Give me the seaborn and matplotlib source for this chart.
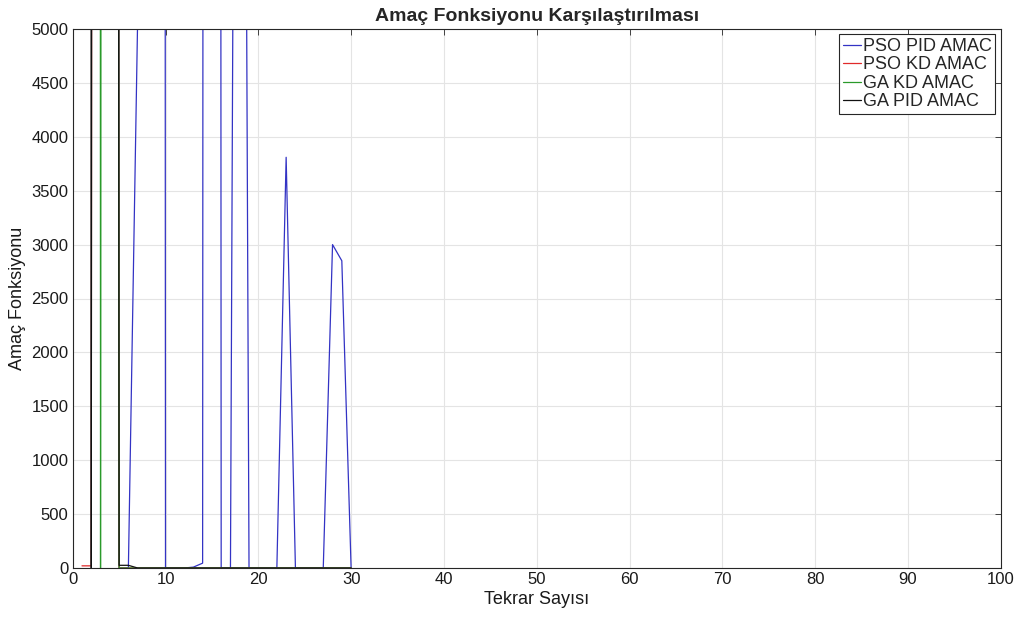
import numpy as np
import pandas as pd
import matplotlib
matplotlib.use("Agg")
import matplotlib.pyplot as plt
import seaborn as sns

# Tekrar (iteration) index
tekrar = list(range(1, 31))

# values far above 5000 are drawn off the top of the axes, as in the original
pso_pid = [250000, 240000, 230000, 220000, 0, 0, 5100, 180000, 170000, 0,
           0, 0, 8, 45, 160000, 0, 0, 20000, 0, 0,
           0, 0, 3810, 0, 0, 0, 0, 3000, 2850, 0]
pso_kd = [20, 20, 150000, 140000, 0, 0, 0, 0, 0, 0,
          0, 0, 0, 0, 0, 0, 0, 0, 0, 0,
          0, 0, 0, 0, 0, 0, 0, 0, 0, 0]
ga_kd = [300000, 290000, 0, 120000, 0, 0, 0, 0, 0, 0,
         0, 0, 0, 0, 0, 0, 0, 0, 0, 0,
         0, 0, 0, 0, 0, 0, 0, 0, 0, 0]
ga_pid = [350000, 0, 130000, 110000, 25, 25, 0, 0, 0, 0,
          0, 0, 0, 0, 0, 0, 0, 0, 0, 0,
          0, 0, 0, 0, 0, 0, 0, 0, 0, 0]

seriler = ["PSO PID AMAC", "PSO KD AMAC", "GA KD AMAC", "GA PID AMAC"]
renkler = ["#3333c4", "#e02a2a", "#2a9a2a", "#111111"]

df = pd.DataFrame({
    "Tekrar": tekrar * 4,
    "Amac": pso_pid + pso_kd + ga_kd + ga_pid,
    "Seri": sum([[s] * len(tekrar) for s in seriler], []),
})

sns.set_style("whitegrid")
plt.rcParams["font.family"] = ["Liberation Sans", "DejaVu Sans"]

fig = plt.figure(figsize=(10.23, 6.17), dpi=100)
ax = fig.add_axes([72.7 / 1023, 1 - 568 / 617, (1000.7 - 72.7) / 1023, (568 - 29) / 617])

sns.lineplot(data=df, x="Tekrar", y="Amac", hue="Seri", hue_order=seriler,
             palette=renkler, linewidth=0.9, ax=ax, estimator=None, sort=True)

ax.set_xlim(0, 100)
ax.set_ylim(0, 5000)
ax.set_xticks(range(0, 101, 10))
ax.set_yticks(range(0, 5001, 500))
ax.grid(True, color="#e4e4e4", linewidth=0.8)
for sp in ax.spines.values():
    sp.set_visible(True)
    sp.set_color("#262626")
    sp.set_linewidth(0.8)
ax.tick_params(axis="both", which="both", direction="in", length=4, width=0.6,
               top=True, right=True, colors="#262626", labelsize=12, pad=3)
ax.tick_params(axis="both", labelcolor="#1a1a1a")

ax.set_title("Amaç Fonksiyonu Karşılaştırılması", fontsize=14, fontweight="bold", pad=6)
ax.set_xlabel("Tekrar Sayısı", fontsize=13, labelpad=3, color="#1a1a1a")
ax.set_ylabel("Amaç Fonksiyonu", fontsize=13, labelpad=4, color="#1a1a1a")

handles, labels = ax.get_legend_handles_labels()
leg = ax.legend(handles, labels, loc="upper right", fontsize=13, frameon=True,
                fancybox=False, framealpha=1, edgecolor="#262626",
                handlelength=1.0, handletextpad=0.1, labelspacing=0.08,
                borderpad=0.2, borderaxespad=0.3)
leg.get_frame().set_linewidth(0.8)

fig.savefig("out.png", dpi=100)
